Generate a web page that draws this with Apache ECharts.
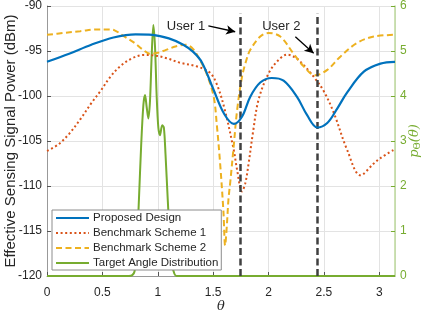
<!DOCTYPE html>
<html><head><meta charset="utf-8">
<script src="https://cdn.jsdelivr.net/npm/echarts@6/dist/echarts.min.js"></script>
<style>html,body{margin:0;padding:0;background:#fff}#c{width:426px;height:313px}</style>
</head><body><div id="c"></div>
<script>
const PI = Math.PI;
// Proposed Design (dBm)
const proposedX = [0,0.2,0.4,0.6,0.8,0.95,1.1,1.23,1.32,1.4,1.5,1.6,1.687,1.76,1.834,1.925,2.03,2.136,2.257,2.347,2.44,2.53,2.62,2.71,2.86,3.01,PI];
const proposedY = [-96.2,-95.3,-94.3,-93.5,-93.15,-93.2,-93.6,-94.3,-95.1,-96.3,-99.2,-102.0,-103.1,-102.3,-100.1,-98.5,-98.0,-98.3,-100.1,-102.1,-103.5,-103.0,-101.4,-99.6,-97.3,-96.4,-96.2];
// Benchmark Scheme 1 (dBm)
const bench1X = [0,0.1,0.2,0.3,0.4,0.48,0.57,0.66,0.77,0.87,0.97,1.08,1.2,1.35,1.47,1.53,1.6,1.686,1.716,1.76,1.79,1.82,1.86,1.91,2.0,2.09,2.17,2.25,2.32,2.41,2.5,2.59,2.71,2.83,2.95,3.01,PI];
const bench1Y = [-106.1,-105.4,-104.2,-102.6,-100.8,-99.5,-97.9,-96.7,-95.8,-95.45,-95.5,-95.8,-96.3,-96.7,-97.4,-98.6,-101.3,-106.0,-108.2,-110.6,-109.7,-107.5,-104.0,-100.4,-97.5,-96.0,-95.4,-95.8,-96.6,-97.9,-99.5,-101.9,-106.0,-108.8,-107.5,-106.9,-105.9];
// Benchmark Scheme 2 (dBm)
const bench2X = [0,0.15,0.3,0.45,0.55,0.61,0.7,0.79,0.86,0.93,1.0,1.07,1.16,1.25,1.32,1.38,1.44,1.505,1.533,1.563,1.593,1.608,1.623,1.638,1.655,1.686,1.716,1.76,1.8,1.834,1.925,2.0,2.106,2.226,2.317,2.42,2.53,2.65,2.8,2.95,PI];
const bench2Y = [-93.2,-93.0,-92.8,-92.6,-92.6,-92.7,-93.4,-94.1,-94.8,-95.3,-95.2,-94.9,-94.5,-94.3,-94.8,-96.0,-97.5,-100.1,-103.2,-107.5,-112.9,-116.6,-114.5,-111.5,-109.5,-105.5,-101.6,-97.9,-96.0,-94.9,-93.4,-93.0,-93.4,-95.3,-96.7,-97.7,-97.1,-95.6,-94.1,-93.4,-93.2];
// Target Angle Distribution (right axis)
const targetX = [0,0.74,0.77,0.79,0.81,0.83,0.85,0.87,0.885,0.9,0.915,0.93,0.945,0.96,0.975,0.99,1.005,1.02,1.04,1.055,1.07,1.09,1.11,1.13,1.15,1.17,PI];
const targetY = [0,0,0.02,0.1,0.6,1.7,2.9,3.8,4.02,3.75,3.5,3.9,4.9,5.58,5.1,4.0,3.3,3.13,3.35,3.3,2.7,1.7,0.8,0.25,0.05,0,0];
// Users
const userAngles = [1.745, 2.443];
const userLineTop = -90.8;
const userLabels = ['User 1', 'User 2'];
const userLabelPos = [[1.255, -92.3], [2.115, -92.3]];
const arrowFrom = [[1.457, -92.22], [2.242, -93.41]];
const arrowTo = [[1.699, -92.86], [2.407, -95.26]];
// axes
const xTicks = [0, 0.5, 1, 1.5, 2, 2.5, 3];
const yTicks = [-120, -115, -110, -105, -100, -95, -90];
const rightTicks = [0, 1, 2, 3, 4, 5, 6];

const zip = (xs, ys) => xs.map((x, i) => [x, ys[i]]);
const FONT = 'Liberation Sans, Arial, Helvetica, sans-serif';
const GREEN = '#77AC30';
const txt = '#262626';

const chart = echarts.init(document.getElementById('c'), null, {renderer: 'canvas'});
chart.setOption({
  animation: false,
  backgroundColor: '#fff',
  textStyle: {fontFamily: FONT},
  grid: {left: 47, right: 31, top: 6, bottom: 37, containLabel: false, outerBoundsMode: 'none'},
  legend: {
    orient: 'vertical', left: 52, top: 210,
    data: ['Proposed Design', 'Benchmark Scheme 1', 'Benchmark Scheme 2', 'Target Angle Distribution'],
    backgroundColor: '#fff', borderColor: '#8c8c8c', borderWidth: 1, borderRadius: 0,
    padding: [2, 3, 1, 3], itemGap: 3, itemWidth: 33, itemHeight: 12,
    itemStyle: {opacity: 0},
    textStyle: {fontSize: 11.5, color: txt, fontFamily: FONT, padding: [0, 0, 0, -1]}
  },
  xAxis: {
    type: 'value', min: xTicks[0], max: PI, interval: 0.5,
    name: 'θ', nameLocation: 'middle', nameGap: 24, nameMoveOverlap: false,
    nameTextStyle: {fontSize: 13, fontStyle: 'italic', color: txt, fontFamily: 'DejaVu Serif'},
    axisLine: {show: true, onZero: false, lineStyle: {color: '#999', width: 1}},
    axisTick: {show: true, inside: true, length: 4, lineStyle: {color: '#555'}},
    axisLabel: {fontSize: 12, color: txt, showMaxLabel: false, margin: 11,
      formatter: v => xTicks.includes(+v.toFixed(3)) ? String(v) : ''},
    splitLine: {show: true, lineStyle: {color: '#e3e3e3', width: 1}}
  },
  yAxis: [{
    type: 'value', min: yTicks[0], max: yTicks[yTicks.length - 1], interval: 5,
    name: 'Effective Sensing Signal Power (dBm)', nameLocation: 'middle', nameGap: 29, nameMoveOverlap: false,
    nameTextStyle: {fontSize: 15, color: txt, fontFamily: FONT},
    axisLine: {show: true, lineStyle: {color: '#999'}},
    axisTick: {show: true, inside: true, length: 4, lineStyle: {color: '#555'}},
    axisLabel: {fontSize: 12, color: txt, margin: 5},
    splitLine: {show: true, lineStyle: {color: '#e3e3e3', width: 1}}
  }, {
    type: 'value', min: rightTicks[0], max: rightTicks[rightTicks.length - 1], interval: 1,
    position: 'right',
    name: '{p|p}{s|Θ}{n|(θ)}', nameLocation: 'middle', nameGap: 12, nameRotate: 90, nameMoveOverlap: false,
    nameTextStyle: {color: GREEN, rich: {
      p: {fontSize: 13, fontStyle: 'italic', color: GREEN, fontFamily: 'DejaVu Serif'},
      s: {fontSize: 9, color: GREEN, verticalAlign: 'bottom', padding: [6, 0, 0, 0], fontFamily: 'DejaVu Serif'},
      n: {fontSize: 13, fontStyle: 'italic', color: GREEN, fontFamily: 'DejaVu Serif'}
    }},
    axisLine: {show: true, lineStyle: {color: '#bcd99b', width: 1.5}},
    axisTick: {show: true, inside: true, length: 4, lineStyle: {color: GREEN}},
    axisLabel: {fontSize: 12, color: GREEN, margin: 5},
    splitLine: {show: false}
  }],
  series: [
    {name: 'Proposed Design', type: 'line', data: zip(proposedX, proposedY), showSymbol: false, symbol: 'none',
      smooth: 0.35, lineStyle: {color: '#0072BD', width: 2.2}, itemStyle: {color: '#0072BD'}, z: 5},
    {name: 'Benchmark Scheme 1', type: 'line', data: zip(bench1X, bench1Y), showSymbol: false, symbol: 'none',
      smooth: 0.35, lineStyle: {color: '#D95319', width: 2, type: [2, 2.6]}, itemStyle: {color: '#D95319'}, z: 4},
    {name: 'Benchmark Scheme 2', type: 'line', data: zip(bench2X, bench2Y), showSymbol: false, symbol: 'none',
      smooth: 0.35, lineStyle: {color: '#EDB120', width: 2, type: [6, 3.5]}, itemStyle: {color: '#EDB120'}, z: 4},
    {name: 'Target Angle Distribution', type: 'line', yAxisIndex: 1, data: zip(targetX, targetY), showSymbol: false, symbol: 'none',
      smooth: 0.3, lineStyle: {color: GREEN, width: 2}, itemStyle: {color: GREEN}, z: 3},
    {name: 'users', type: 'line', data: [], silent: true, z: 6,
      markLine: {silent: true, symbol: ['none', 'none'], animation: false,
        lineStyle: {color: '#404040', width: 2.5, type: [7, 3.5]}, label: {show: false},
        data: userAngles.map(u => [{coord: [u, yTicks[0]]}, {coord: [u, userLineTop]}])
          .concat(arrowFrom.map((f, i) => [{coord: f, symbol: 'none', lineStyle: {color: '#000', width: 1.3, type: 'solid'}},
                                            {coord: arrowTo[i], symbol: 'arrow', symbolSize: [7, 9]}]))
      },
      markPoint: {silent: true, animation: false,
        data: userLabels.map((t, i) => ({coord: userLabelPos[i], symbol: 'circle', symbolSize: 0,
          label: {show: true, position: 'inside', formatter: t, fontSize: 13, color: txt, fontFamily: FONT}}))
      }
    }
  ]
});
</script></body></html>
